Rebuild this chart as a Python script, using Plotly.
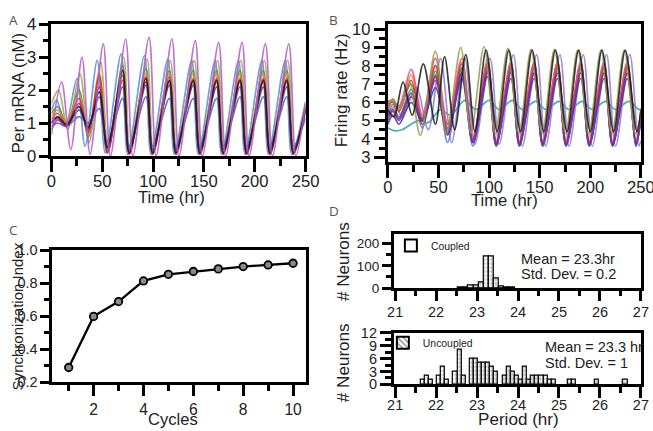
import plotly.graph_objects as go

# ---------------- Panel A: Per mRNA (nM) ----------------
tA_main = [0, 6, 15, 27, 36, 47, 55, 70, 76.5, 93, 99.5, 116, 122.5, 139.5, 146, 162.5, 169, 185.5, 192, 208.5, 215, 231.5, 238, 250]
tA_lead = [0, 5, 14, 25, 33, 45, 53, 68.5, 75, 91.5, 98, 114.5, 121, 138, 144.5, 161, 167.5, 184, 190.5, 207, 213.5, 230, 236.5, 250]
tA_lag = [0, 7, 16, 28, 37, 48.5, 56, 71, 77.5, 94, 100.5, 117, 123.5, 140.5, 147, 163.5, 170, 186.5, 193, 209.5, 216, 232.5, 239, 250]
tA_purple = [0, 10, 19, 30, 38, 51, 58, 73, 80, 96, 103, 118.5, 125.5, 141.5, 148.5, 164.5, 171.5, 187.5, 194.5, 210.5, 217.5, 233.5, 240.5, 250]

A_blue = [1.4, 1.7, 0.95, 2.35, 0.3, 2.9, 0.1, 3.1, 0.05, 3.05, 0.05, 2.95, 0.05, 2.9, 0.05, 2.9, 0.05, 2.9, 0.05, 2.9, 0.05, 2.9, 0.05, 1.65]
A_olive = [1.6, 2.0, 0.8, 2.5, 0.4, 2.85, 0.15, 3.0, 0.1, 2.95, 0.1, 2.9, 0.1, 2.9, 0.1, 2.9, 0.1, 2.9, 0.1, 2.9, 0.1, 2.9, 0.1, 1.4]
A_green = [1.3, 1.5, 1.0, 2.0, 0.55, 2.4, 0.1, 2.75, 0.1, 2.65, 0.1, 2.6, 0.1, 2.6, 0.1, 2.6, 0.1, 2.6, 0.1, 2.6, 0.1, 2.6, 0.1, 1.55]
A_orange = [1.2, 1.4, 1.0, 1.9, 0.6, 2.55, 0.15, 2.55, 0.15, 2.5, 0.15, 2.5, 0.15, 2.5, 0.15, 2.5, 0.15, 2.5, 0.15, 2.5, 0.15, 2.5, 0.15, 1.5]
A_red = [1.1, 1.3, 0.95, 1.75, 0.7, 2.45, 0.15, 2.45, 0.1, 2.4, 0.1, 2.4, 0.1, 2.35, 0.1, 2.35, 0.1, 2.35, 0.1, 2.35, 0.1, 2.35, 0.1, 1.45]
A_navy = [1.0, 1.15, 0.9, 1.4, 0.9, 1.8, 0.3, 2.1, 0.2, 2.15, 0.2, 2.15, 0.2, 2.15, 0.2, 2.1, 0.2, 2.1, 0.2, 2.1, 0.2, 2.1, 0.2, 1.35]
A_darkblue = [0.9, 1.0, 0.9, 1.2, 1.0, 1.45, 0.45, 1.75, 0.3, 1.8, 0.3, 1.75, 0.3, 1.75, 0.3, 1.75, 0.3, 1.8, 0.3, 1.8, 0.3, 1.8, 0.3, 1.15]
A_magenta = [0.8, 1.1, 0.9, 1.6, 0.75, 2.1, 0.1, 2.3, 0.05, 2.25, 0.05, 2.25, 0.05, 2.25, 0.05, 2.25, 0.05, 2.25, 0.05, 2.25, 0.05, 2.25, 0.05, 1.4]
A_black = [1.0, 1.2, 0.95, 1.5, 0.85, 1.95, 0.25, 2.6, 0.1, 2.35, 0.1, 2.3, 0.1, 2.3, 0.1, 2.3, 0.1, 2.3, 0.1, 2.3, 0.1, 2.3, 0.1, 1.45]
A_purple = [0.65, 2.25, 0.2, 3.0, 0.05, 3.4, 0.0, 3.55, 0.0, 3.6, 0.0, 3.55, 0.0, 3.5, 0.0, 3.45, 0.0, 3.45, 0.0, 3.4, 0.0, 3.4, 0.0, 1.6]

# ---------------- Panel B: Firing rate (Hz) ----------------
tB_main = [0, 5, 11, 23, 34, 47, 59, 73, 84, 98.5, 107, 121.5, 130, 144.5, 153, 167.5, 176, 190.5, 199, 213.5, 222, 236.5, 245, 250]
tB_black = [0, 6, 15, 24, 35, 47, 56, 66, 77, 86, 97, 108, 119.5, 131, 142.5, 154, 165.5, 177, 188.5, 200, 211.5, 223, 234.5, 246, 250]
tB_olive = [0, 5, 12, 21, 32, 47, 58, 72, 82, 95, 106, 118.5, 129.5, 141.5, 152.5, 164.5, 175.5, 187.5, 198.5, 210.5, 221.5, 233.5, 244.5, 250]
tB_lav = [0, 8, 14, 28, 40, 52, 63, 76, 86, 101, 110, 124, 133, 147, 156, 170, 179, 193, 202, 216, 225, 239, 248, 250]
tB_teal = [0, 6, 14, 30, 40, 52, 62, 76, 87, 100, 110, 123, 133, 146, 156, 169, 179, 192, 202, 215, 225, 238, 248, 250]

B_blue = [5.3, 5.9, 5.2, 6.7, 4.6, 7.5, 3.8, 7.9, 3.6, 8.0, 3.6, 7.9, 3.6, 7.9, 3.6, 7.9, 3.6, 7.9, 3.6, 7.9, 3.6, 7.9, 3.6, 5.2]
B_purple = [5.0, 5.5, 5.0, 6.3, 5.1, 7.2, 4.3, 7.6, 3.8, 7.7, 3.6, 7.7, 3.6, 7.6, 3.6, 7.6, 3.6, 7.6, 3.6, 7.6, 3.6, 7.6, 3.6, 5.1]
B_red = [5.6, 6.1, 5.5, 7.2, 5.0, 8.0, 4.6, 8.1, 4.0, 8.1, 3.8, 8.1, 3.8, 8.1, 3.8, 8.1, 3.8, 8.1, 3.8, 8.1, 3.8, 8.1, 3.8, 5.4]
B_orange = [5.8, 6.2, 5.6, 7.5, 5.2, 8.0, 4.8, 8.2, 4.0, 8.25, 3.9, 8.2, 3.9, 8.2, 3.9, 8.2, 3.9, 8.2, 3.9, 8.2, 3.9, 8.2, 3.9, 5.5]
B_pink = [5.9, 6.1, 5.8, 7.8, 5.3, 8.4, 4.8, 8.4, 4.1, 8.3, 3.8, 8.2, 3.8, 8.2, 3.8, 8.2, 3.8, 8.2, 3.8, 8.2, 3.8, 8.2, 3.8, 5.5]
B_green = [6.1, 6.0, 5.7, 7.0, 5.1, 7.7, 4.5, 7.8, 3.9, 7.9, 3.8, 7.9, 3.8, 7.9, 3.8, 7.9, 3.8, 7.9, 3.8, 7.9, 3.8, 7.9, 3.8, 5.4]
B_navy = [4.8, 5.3, 4.8, 6.0, 5.0, 6.8, 4.3, 7.3, 3.8, 7.4, 3.7, 7.3, 3.7, 7.3, 3.7, 7.3, 3.7, 7.3, 3.7, 7.3, 3.7, 7.3, 3.7, 5.0]
B_crimson = [5.2, 5.6, 5.1, 6.5, 4.8, 7.4, 4.2, 7.6, 3.8, 7.6, 3.7, 7.6, 3.7, 7.6, 3.7, 7.6, 3.7, 7.6, 3.7, 7.6, 3.7, 7.6, 3.7, 5.2]
B_black = [5.6, 5.2, 7.1, 5.3, 8.1, 4.8, 8.5, 4.5, 8.6, 4.4, 8.85, 4.4, 8.85, 4.4, 8.85, 4.4, 8.85, 4.4, 8.85, 4.4, 8.85, 4.4, 8.85, 4.4, 5.6]
B_olive = [6.0, 6.1, 5.6, 7.2, 4.2, 8.8, 4.3, 9.0, 4.3, 9.05, 4.3, 8.95, 4.3, 8.9, 4.3, 8.9, 4.3, 8.85, 4.3, 8.85, 4.3, 8.85, 4.3, 5.3]
B_lav = [5.4, 5.8, 5.2, 6.8, 4.5, 8.4, 3.8, 8.4, 3.7, 8.4, 3.7, 8.6, 3.6, 8.6, 3.6, 8.6, 3.6, 8.6, 3.6, 8.6, 3.6, 8.6, 3.6, 3.9]
B_teal = [4.6, 4.45, 4.5, 5.0, 4.9, 5.6, 5.3, 6.1, 5.6, 6.1, 5.6, 6.1, 5.6, 6.05, 5.6, 6.05, 5.6, 6.05, 5.6, 6.05, 5.6, 6.05, 5.6, 5.65]

# ---------------- Panel C: Synchronization index ----------------
cycles = [1, 2, 3, 4, 5, 6, 7, 8, 9, 10]
sync_index = [0.29, 0.60, 0.69, 0.815, 0.855, 0.872, 0.888, 0.902, 0.912, 0.922]

# ---------------- Panel D: Period histograms ----------------
coupled_period = [22.6, 22.725, 22.85, 22.975, 23.1, 23.225, 23.35, 23.475, 23.6, 23.725, 23.85]
coupled_count = [2, 4, 10, 12, 25, 140, 140, 45, 8, 4, 2]
uncoupled_period = [21.67, 21.77, 21.87, 22.07, 22.17, 22.27, 22.47, 22.57, 22.67, 22.87, 22.97, 23.07, 23.17,
                    23.27, 23.37, 23.47, 23.67, 23.77, 23.87, 23.97, 24.07, 24.17, 24.27, 24.37, 24.47, 24.57,
                    24.67, 24.77, 24.87, 25.27, 25.37, 25.92, 26.62]
uncoupled_count = [1, 2, 1, 2, 4, 1, 3, 8, 2, 6, 6, 5, 5, 5, 4, 3, 2, 4, 3, 2, 1, 4, 1, 2, 2, 2, 2, 1, 1, 1, 1, 1, 1]

FONT = "Liberation Sans, Arial, sans-serif"
# The page keeps the browser's 8px body margin and its capture is shrunk uniformly;
# the figure is sized so that the shrunk capture fills the 653x431 window.
S = 431 / 447
W, H = 661, 439


def X(p):  # wanted window x pixel -> paper fraction
    return (p / S - 8) / W


def Y(p):
    return 1 - (p / S - 8) / H


def F(size):  # font size compensating the shrink
    return round(size / S, 1)


fig = go.Figure()

A_series = [
    (tA_lead, A_blue, "#5b8fd6"), (tA_lag, A_olive, "#a5a55a"), (tA_main, A_green, "#3a9a5c"),
    (tA_main, A_orange, "#f08a2c"), (tA_main, A_red, "#d63a3a"), (tA_main, A_navy, "#3a4aa6"),
    (tA_main, A_darkblue, "#5060c8"), (tA_main, A_magenta, "#c21e68"), (tA_main, A_black, "#1a1a1a"),
    (tA_purple, A_purple, "#b45cc4"),
]
for t, v, c in A_series:
    fig.add_trace(go.Scatter(x=t, y=v, mode="lines", line=dict(color=c, width=1.7, shape="spline", smoothing=0.9),
                             opacity=0.85, showlegend=False, xaxis="x", yaxis="y", hoverinfo="skip"))

B_series = [
    (tB_teal, B_teal, "#2aa0a0"), (tB_lav, B_lav, "#8c80d8"), (tB_main, B_blue, "#4c78c8"),
    (tB_main, B_green, "#2e9a4a"), (tB_main, B_orange, "#f08a2c"), (tB_main, B_red, "#d63a3a"),
    (tB_main, B_pink, "#ec4a86"), (tB_main, B_crimson, "#a82048"), (tB_main, B_navy, "#3a3aa0"),
    (tB_main, B_purple, "#7a3aa8"), (tB_olive, B_olive, "#9a9a52"), (tB_black, B_black, "#1a1a1a"),
]
for t, v, c in B_series:
    fig.add_trace(go.Scatter(x=t, y=v, mode="lines", line=dict(color=c, width=1.7, shape="spline", smoothing=0.9),
                             opacity=0.85, showlegend=False, xaxis="x2", yaxis="y2", hoverinfo="skip"))

fig.add_trace(go.Scatter(x=cycles, y=sync_index, mode="lines+markers",
                         line=dict(color="black", width=2.3),
                         marker=dict(symbol="circle", size=7.5, color="#8a8a8a", line=dict(color="black", width=1.8)),
                         showlegend=False, xaxis="x3", yaxis="y3"))

pattern = dict(shape="+", size=4, solidity=0.25, fgcolor="black", bgcolor="white")
fig.add_trace(go.Bar(x=coupled_period, y=coupled_count, width=0.125,
                     marker=dict(color="white", line=dict(color="black", width=1.2), pattern=pattern),
                     showlegend=False, xaxis="x4", yaxis="y4"))
fig.add_trace(go.Bar(x=uncoupled_period, y=uncoupled_count, width=0.1,
                     marker=dict(color="white", line=dict(color="black", width=1.2), pattern=pattern),
                     showlegend=False, xaxis="x5", yaxis="y5"))
# legend keys
fig.add_trace(go.Bar(x=[None], y=[None], name="Coupled",
                     marker=dict(color="white", line=dict(color="black", width=2)),
                     showlegend=True, legend="legend", xaxis="x4", yaxis="y4"))
fig.add_trace(go.Bar(x=[None], y=[None], name="Uncoupled",
                     marker=dict(color="white", line=dict(color="black", width=2),
                                 pattern=dict(shape="\\", size=5, solidity=0.3, fgcolor="black", bgcolor="white")),
                     showlegend=True, legend="legend2", xaxis="x5", yaxis="y5"))


def axis(domain, rng, dtick, tick0, mdtick, tlen, mlen, anchor, fsize=16, standoff=0, fmt=None):
    d = dict(domain=domain, range=rng, dtick=dtick, tick0=tick0, ticks="outside", ticklen=tlen,
             tickwidth=2.6, tickcolor="black", showline=True, linewidth=3, linecolor="black",
             mirror=True, showgrid=False, zeroline=False, anchor=anchor,
             ticklabelstandoff=standoff,
             tickfont=dict(size=F(fsize), color="#222", family=FONT),
             minor=dict(dtick=mdtick, tick0=tick0, ticks="outside", ticklen=mlen, tickwidth=2.6,
                        tickcolor="black", showgrid=False))
    if fmt:
        d["tickformat"] = fmt
    return d


fig.update_layout(
    width=W, height=H, margin=dict(l=0, r=0, t=0, b=0),
    paper_bgcolor="white", plot_bgcolor="white",
    font=dict(family=FONT, color="#222"),
    barmode="overlay", bargap=0,
    xaxis=axis([X(52), X(305)], [0, 250], 50, 0, 25, 13, 7, "y", 16, standoff=-5),
    yaxis=axis([Y(156), Y(23)], [0, 4], 1, 0, 0.5, 9, 5, "x", 16),
    xaxis2=axis([X(387), X(639)], [0, 250], 50, 0, 25, 13, 7, "y2", 16, standoff=-5),
    yaxis2=axis([Y(162), Y(23)], [2.73, 10.27], 1, 0, 0.5, 11, 6, "x2", 16),
    xaxis3=axis([X(53), X(305)], [0.35, 10.5], 2, 0, 1, 11, 6, "y3", 15, standoff=0),
    yaxis3=axis([Y(384), Y(251)], [0.2, 1.0], 0.2, 0.2, 0.1, 9, 5, "x3", 14, fmt=".1f"),
    xaxis4=axis([X(393), X(639)], [20.97, 27], 1, 21, 0.5, 10, 5, "y4", 14, standoff=-2),
    yaxis4=axis([Y(289), Y(234)], [0, 245], 100, 0, 50, 9, 5, "x4", 13),
    xaxis5=axis([X(393), X(639)], [20.97, 27], 1, 21, 0.5, 11, 6, "y5", 14, standoff=-6),
    yaxis5=axis([Y(386), Y(334)], [0, 12], 3, 0, 1.5, 11, 6, "x5", 14),
    legend=dict(x=X(390), y=Y(231.5), xanchor="left", yanchor="top", bgcolor="rgba(0,0,0,0)",
                font=dict(size=F(10), family=FONT), itemwidth=30, borderwidth=0),
    legend2=dict(x=X(382), y=Y(329.5), xanchor="left", yanchor="top", bgcolor="rgba(0,0,0,0)",
                 font=dict(size=F(10), family=FONT), itemwidth=30, borderwidth=0),
)

ann = []


def text(x, y, s, size=16, angle=0, xanchor="center", color="#222", family=FONT, yanchor="middle"):
    ann.append(dict(x=max(X(x), 0), y=min(Y(y), 1), xref="paper", yref="paper", text=s, showarrow=False,
                    textangle=angle, xanchor=xanchor, yanchor=yanchor,
                    font=dict(size=F(size), color=color, family=family)))


text(172, 198, "Time (hr)", 16)
text(8, 92, "Per mRNA (nM)", 16.5, -90, xanchor="left")
text(503, 201, "Time (hr)", 16)
text(341, 90, "Firing rate (Hz)", 16.5, -90)
text(173, 421, "Cycles", 16)
text(7, 318, "Synchronization Index", 14.5, -90, xanchor="left")
text(343, 262, "# Neurons", 16.5, -90)
text(343, 364, "# Neurons", 16.5, -90)
text(517, 421.5, "Period (hr)", 16.5)
text(518, 260, "Mean = 23.3hr", 14, xanchor="left")
text(518, 275, "Std. Dev. = 0.2", 14, xanchor="left")
text(541, 348, "Mean = 23.3 hr", 14, xanchor="left")
text(541, 364, "Std. Dev. = 1", 14, xanchor="left")
LET = "Open Sans, sans-serif"
text(8, 8, "A", 13, color="#555", family=LET, xanchor="left", yanchor="top")
text(333, 8, "B", 13, color="#555", family=LET, yanchor="top")
text(8, 230, "C", 13, color="#555", family=LET, xanchor="left")
text(333, 211, "D", 13, color="#555", family=LET)
fig.update_layout(annotations=ann)

fig.write_html("out.html")
